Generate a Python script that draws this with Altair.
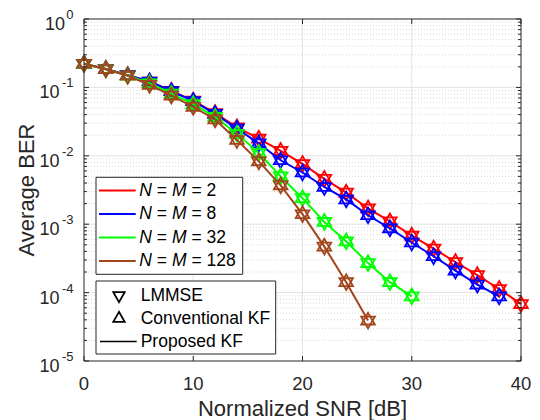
import altair as alt
import pandas as pd

# ---------------- data ----------------
snr_db = [0, 2, 4, 6, 8, 10, 12, 14, 16, 18, 20, 22, 24, 26, 28, 30, 32, 34, 36, 38, 40]
ber_nm2 = [0.222, 0.186, 0.151, 0.122, 0.089, 0.064, 0.042, 0.026, 0.0178, 0.0118, 0.0076,
           0.0046, 0.0029, 0.0017, 0.0011, 0.00068, 0.00044, 0.00028, 0.00018, 0.000113, 0.000068]
ber_nm8 = [0.222, 0.186, 0.151, 0.122, 0.088, 0.063, 0.041, 0.025, 0.0152, 0.0086, 0.0057,
           0.0035, 0.0023, 0.00135, 0.00087, 0.00054, 0.00034, 0.00021, 0.000131, 0.000088]
ber_nm32 = [0.222, 0.184, 0.149, 0.115, 0.081, 0.057, 0.037, 0.021, 0.011, 0.005, 0.0024,
            0.00108, 0.00056, 0.00027, 0.000142, 0.000088]
ber_nm128 = [0.222, 0.184, 0.148, 0.109, 0.076, 0.052, 0.034, 0.017, 0.0083, 0.0037, 0.0014,
             0.00047, 0.000142, 0.000039]

series_labels = ["2", "8", "32", "128"]
series_values = [ber_nm2, ber_nm8, ber_nm32, ber_nm128]
series_colors = ["#FF0000", "#0000FF", "#00FF00", "#A3441B"]

x_tick_values = [0, 10, 20, 30, 40]
x_tick_labels = ["0", "10", "20", "30", "40"]
y_tick_values = [1, 0.1, 0.01, 0.001, 0.0001, 0.00001]
y_tick_exps = ["0", "-1", "-2", "-3", "-4", "-5"]
method_labels = ["LMMSE", "Conventional KF", "Proposed KF"]

# ---------------- layout / style ----------------
W, H = 437, 342
FONT = "Liberation Sans"
AX = "#262626"
xs = alt.Scale(domain=[0, 40], nice=False, zero=False)
ys = alt.Scale(type="log", domain=[1e-5, 1], nice=False)


def one():
    return pd.DataFrame({"a": [0]})


def text(x, y, s, size=17.5, italic=False, align="left", baseline="middle", color="#000000", angle=0):
    kw = dict(text=s, fontSize=size, font=FONT, align=align, baseline=baseline, color=color)
    if italic:
        kw["fontStyle"] = "italic"
    if angle:
        kw["angle"] = angle
    return alt.Chart(one()).mark_text(**kw).encode(x=alt.value(x), y=alt.value(y))


layers = []

# grid
y_minor = [k * 10.0 ** e for e in range(-5, 0) for k in range(2, 10)]
layers.append(alt.Chart(pd.DataFrame({"v": y_minor})).mark_rule(
    color="#cfcfcf", strokeDash=[1, 2], strokeWidth=0.8).encode(
    y=alt.Y("v:Q", scale=ys, axis=None)))
layers.append(alt.Chart(pd.DataFrame({"v": y_tick_values[1:-1]})).mark_rule(
    color="#e2e2e2", strokeWidth=1).encode(y=alt.Y("v:Q", scale=ys, axis=None)))
layers.append(alt.Chart(pd.DataFrame({"v": x_tick_values[1:-1]})).mark_rule(
    color="#e2e2e2", strokeWidth=1).encode(x=alt.X("v:Q", scale=xs, axis=None)))

# data
for lab, vals, col in zip(series_labels, series_values, series_colors):
    df = pd.DataFrame({"snr": snr_db[:len(vals)], "ber": vals})
    enc = dict(x=alt.X("snr:Q", scale=xs, axis=None), y=alt.Y("ber:Q", scale=ys, axis=None))
    layers.append(alt.Chart(df).mark_line(color=col, strokeWidth=2).encode(**enc))
    for ang in [180, 0]:
        kw = dict(shape="triangle", filled=False, color=col, size=185, strokeWidth=1.8, opacity=1)
        if ang:
            kw["angle"] = ang
        layers.append(alt.Chart(df).mark_point(**kw).encode(**enc))

# ticks (inward, all four sides)
ymaj = pd.DataFrame({"v": y_tick_values})
ymin = pd.DataFrame({"v": y_minor})
xmaj = pd.DataFrame({"v": x_tick_values})
for d, L in [(ymaj, 5), (ymin, 3)]:
    layers.append(alt.Chart(d).mark_rule(color=AX, strokeWidth=1).encode(
        y=alt.Y("v:Q", scale=ys, axis=None), x=alt.value(0), x2=alt.value(L)))
    layers.append(alt.Chart(d).mark_rule(color=AX, strokeWidth=1).encode(
        y=alt.Y("v:Q", scale=ys, axis=None), x=alt.value(W - L), x2=alt.value(W)))
layers.append(alt.Chart(xmaj).mark_rule(color=AX, strokeWidth=1).encode(
    x=alt.X("v:Q", scale=xs, axis=None), y=alt.value(H - 5), y2=alt.value(H)))
layers.append(alt.Chart(xmaj).mark_rule(color=AX, strokeWidth=1).encode(
    x=alt.X("v:Q", scale=xs, axis=None), y=alt.value(0), y2=alt.value(5)))

# box
layers.append(alt.Chart(one()).mark_rect(fillOpacity=0, stroke=AX, strokeWidth=1).encode(
    x=alt.value(0), x2=alt.value(W), y=alt.value(0), y2=alt.value(H)))

# tick labels
layers.append(alt.Chart(pd.DataFrame({"v": x_tick_values, "t": x_tick_labels})).mark_text(
    fontSize=18.5, font=FONT, color=AX, baseline="alphabetic", align="center").encode(
    x=alt.X("v:Q", scale=xs, axis=None), y=alt.value(371), text="t:N"))
ylab = pd.DataFrame({"v": y_tick_values, "e": y_tick_exps})
layers.append(alt.Chart(ylab.iloc[:1]).mark_text(
    text="10", fontSize=18, font=FONT, color=AX, align="right", baseline="middle", dy=6).encode(
    x=alt.value(-19), y=alt.Y("v:Q", scale=ys, axis=None)))
layers.append(alt.Chart(ylab.iloc[1:]).mark_text(
    text="10", fontSize=18, font=FONT, color=AX, align="right", baseline="middle", dy=6).encode(
    x=alt.value(-24.5), y=alt.Y("v:Q", scale=ys, axis=None)))
layers.append(alt.Chart(ylab).mark_text(
    fontSize=13, font=FONT, color=AX, align="right", baseline="middle", dy=-4).encode(
    x=alt.value(-10.5), y=alt.Y("v:Q", scale=ys, axis=None), text="e:N"))

# axis titles
layers.append(text(W / 2, 397, "Normalized SNR [dB]", size=22, align="center",
                   baseline="alphabetic", color=AX))
layers.append(text(-57, H / 2, "Average BER", size=22, align="center", color=AX, angle=270))

# legend 1
layers.append(alt.Chart(one()).mark_rect(fill="white", stroke=AX, strokeWidth=1).encode(
    x=alt.value(12), x2=alt.value(158.7), y=alt.value(158.3), y2=alt.value(255.3)))
for i, (lab, col) in enumerate(zip(series_labels, series_colors)):
    yy = 171.5 + 23.5 * i
    layers.append(alt.Chart(one()).mark_rule(color=col, strokeWidth=2).encode(
        x=alt.value(15), x2=alt.value(51.7), y=alt.value(yy)))
    layers.append(text(55.3, yy, "N", italic=True))
    layers.append(text(72.8, yy, "="))
    layers.append(text(87.9, yy, "M", italic=True))
    layers.append(text(107.4, yy, "= " + lab))

# legend 2
layers.append(alt.Chart(one()).mark_rect(fill="white", stroke=AX, strokeWidth=1).encode(
    x=alt.value(12), x2=alt.value(191.7), y=alt.value(262), y2=alt.value(335)))
rows2 = [276.5, 299.5, 322.5]
for ang, yy in zip([180, 0], rows2[:2]):
    kw = dict(shape="triangle", filled=False, color="#000000", size=130, strokeWidth=1.8, opacity=1)
    if ang:
        kw["angle"] = ang
    layers.append(alt.Chart(one()).mark_point(**kw).encode(x=alt.value(35), y=alt.value(yy)))
layers.append(alt.Chart(one()).mark_rule(color="#000000", strokeWidth=1.3).encode(
    x=alt.value(16), x2=alt.value(52.7), y=alt.value(rows2[2])))
for lab, yy in zip(method_labels, rows2):
    layers.append(text(56.7, yy, lab))

chart = alt.layer(*layers).properties(
    width=W, height=H,
    padding={"left": 76, "top": 11, "right": 11, "bottom": 59},
    autosize=alt.AutoSizeParams(type="none"),
    background="white",
).configure_view(stroke=None)

chart.save("out.html", embed_options={"renderer": "svg", "actions": False})
